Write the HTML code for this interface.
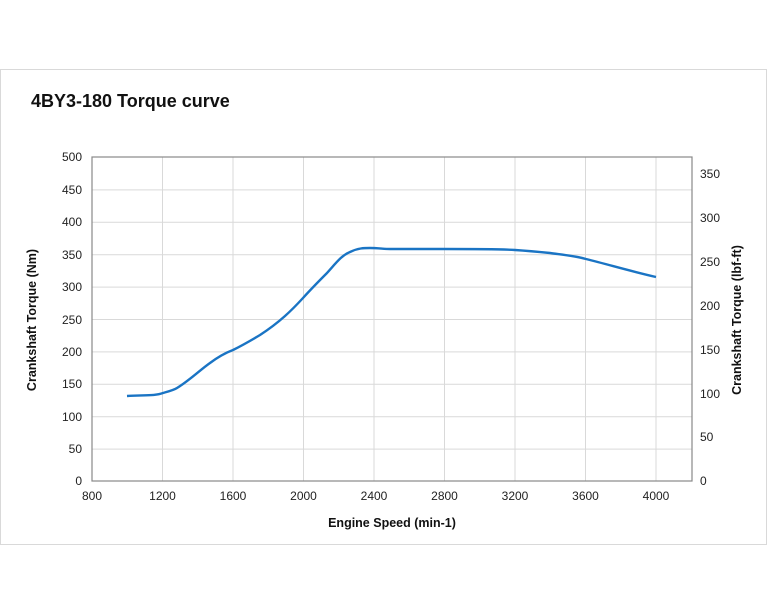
<!DOCTYPE html>
<html><head><meta charset="utf-8"><style>
body{margin:0;background:#fff;}
svg{display:block;font-family:"Liberation Sans",Arial,sans-serif;}
</style></head><body>
<svg width="768" height="614" viewBox="0 0 768 614">
<rect x="0.5" y="69.5" width="766" height="475" fill="#fff" stroke="#d9d9d9"/>
<text x="31" y="107" font-size="18" font-weight="bold" fill="#111">4BY3-180  Torque curve</text>
<g stroke="#d9d9d9" stroke-width="1">
<line x1="92" y1="189.9" x2="692" y2="189.9"/><line x1="92" y1="222.3" x2="692" y2="222.3"/>
<line x1="92" y1="254.7" x2="692" y2="254.7"/><line x1="92" y1="287.1" x2="692" y2="287.1"/>
<line x1="92" y1="319.5" x2="692" y2="319.5"/><line x1="92" y1="351.9" x2="692" y2="351.9"/>
<line x1="92" y1="384.3" x2="692" y2="384.3"/><line x1="92" y1="416.7" x2="692" y2="416.7"/>
<line x1="92" y1="449.1" x2="692" y2="449.1"/>
<line x1="162.5" y1="157" x2="162.5" y2="481"/><line x1="233" y1="157" x2="233" y2="481"/>
<line x1="303.5" y1="157" x2="303.5" y2="481"/><line x1="374" y1="157" x2="374" y2="481"/>
<line x1="444.5" y1="157" x2="444.5" y2="481"/><line x1="515" y1="157" x2="515" y2="481"/>
<line x1="585.5" y1="157" x2="585.5" y2="481"/><line x1="656" y1="157" x2="656" y2="481"/>
</g>
<rect x="92" y="157" width="600" height="324" fill="none" stroke="#888" stroke-width="1.2"/>
<path d="M127,396 C145,395 155,396 163,393 C170,391 174,390 177,388 C190,380 200,370 210,363 C218,357 225,353 233,350 C243,345 250,341 260,335 C280,322 292,310 303,298 C312,288 320,280 327,273 C336,263 342,255 350,252 C358,248 364,248 370,248 C378,248 384,249 390,249 C410,249 425,249 444,249 C480,249 500,249 515,250 C530,251 540,252 550,253 C565,255 576,256 586,259 C610,265 630,271 656,277" fill="none" stroke="#1a74c4" stroke-width="2.4"/>
<g font-size="12" fill="#222" text-anchor="end">
<text x="82" y="161">500</text><text x="82" y="194">450</text><text x="82" y="226">400</text>
<text x="82" y="259">350</text><text x="82" y="291">300</text><text x="82" y="324">250</text>
<text x="82" y="356">200</text><text x="82" y="388">150</text><text x="82" y="421">100</text>
<text x="82" y="453">50</text><text x="82" y="485">0</text>
</g>
<g font-size="12" fill="#222" text-anchor="start">
<text x="700" y="178">350</text><text x="700" y="222">300</text><text x="700" y="266">250</text>
<text x="700" y="310">200</text><text x="700" y="354">150</text><text x="700" y="398">100</text>
<text x="700" y="441">50</text><text x="700" y="485">0</text>
</g>
<g font-size="12" fill="#222" text-anchor="middle">
<text x="92" y="500">800</text><text x="162.5" y="500">1200</text><text x="233" y="500">1600</text>
<text x="303.5" y="500">2000</text><text x="374" y="500">2400</text><text x="444.5" y="500">2800</text>
<text x="515" y="500">3200</text><text x="585.5" y="500">3600</text><text x="656" y="500">4000</text>
</g>
<text x="392" y="527" font-size="12.5" font-weight="bold" text-anchor="middle" fill="#111">Engine Speed (min-1)</text>
<text transform="translate(36,320) rotate(-90)" font-size="12.5" font-weight="bold" text-anchor="middle" fill="#111">Crankshaft Torque (Nm)</text>
<text transform="translate(741,320) rotate(-90)" font-size="12.5" font-weight="bold" text-anchor="middle" fill="#111">Crankshaft Torque (lbf-ft)</text>
</svg>
</body></html>
